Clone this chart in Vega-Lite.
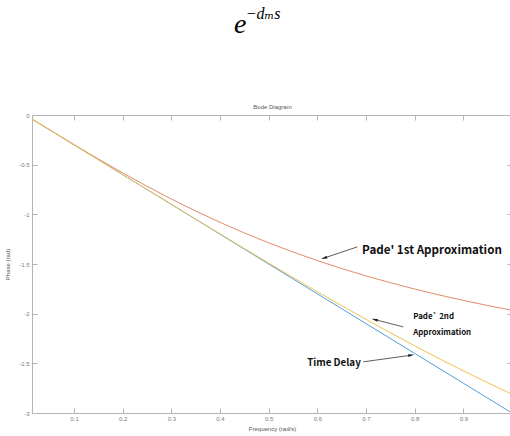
{
  "$schema": "https://vega.github.io/schema/vega-lite/v6.json",
  "width": 480,
  "height": 298,
  "autosize": {"type": "none"},
  "padding": {"left": 32, "top": 115, "right": 0, "bottom": 23},
  "background": "white",
  "title": {
    "text": "\u2800−dₘs",
    "subtitle": "e",
    "anchor": "start",
    "frame": "group",
    "align": "left",
    "dx": 202,
    "offset": 65,
    "font": "Liberation Serif, DejaVu Serif",
    "fontStyle": "italic",
    "fontWeight": "normal",
    "fontSize": 16,
    "color": "black",
    "subtitleFont": "Liberation Serif, DejaVu Serif",
    "subtitleFontStyle": "italic",
    "subtitleFontSize": 28,
    "subtitleColor": "black",
    "subtitlePadding": -11
  },
  "config": {
    "view": {"stroke": null},
    "axis": {
      "labelFont": "Liberation Sans",
      "titleFont": "Liberation Sans",
      "labelFontSize": 6,
      "titleFontSize": 6,
      "labelColor": "#7a7a7a",
      "titleColor": "#555555",
      "titleFontWeight": "normal",
      "domainColor": "#b5b5b5",
      "tickColor": "#b5b5b5",
      "grid": false,
      "tickSize": -5
    }
  },
  "datasets": {
    "phase": [
      {"freq": 0.0136, "phase": -0.041, "series": "Time Delay"},
      {"freq": 0.05, "phase": -0.15, "series": "Time Delay"},
      {"freq": 0.1, "phase": -0.3, "series": "Time Delay"},
      {"freq": 0.15, "phase": -0.45, "series": "Time Delay"},
      {"freq": 0.2, "phase": -0.6, "series": "Time Delay"},
      {"freq": 0.25, "phase": -0.75, "series": "Time Delay"},
      {"freq": 0.3, "phase": -0.9, "series": "Time Delay"},
      {"freq": 0.35, "phase": -1.05, "series": "Time Delay"},
      {"freq": 0.4, "phase": -1.2, "series": "Time Delay"},
      {"freq": 0.45, "phase": -1.35, "series": "Time Delay"},
      {"freq": 0.5, "phase": -1.5, "series": "Time Delay"},
      {"freq": 0.55, "phase": -1.65, "series": "Time Delay"},
      {"freq": 0.6, "phase": -1.8, "series": "Time Delay"},
      {"freq": 0.65, "phase": -1.95, "series": "Time Delay"},
      {"freq": 0.7, "phase": -2.1, "series": "Time Delay"},
      {"freq": 0.75, "phase": -2.25, "series": "Time Delay"},
      {"freq": 0.8, "phase": -2.4, "series": "Time Delay"},
      {"freq": 0.85, "phase": -2.55, "series": "Time Delay"},
      {"freq": 0.9, "phase": -2.7, "series": "Time Delay"},
      {"freq": 0.95, "phase": -2.85, "series": "Time Delay"},
      {"freq": 1.0, "phase": -3.0, "series": "Time Delay"},
      {"freq": 0.0136, "phase": -0.041, "series": "Pade 1st"},
      {"freq": 0.05, "phase": -0.1497, "series": "Pade 1st"},
      {"freq": 0.1, "phase": -0.2978, "series": "Pade 1st"},
      {"freq": 0.15, "phase": -0.4426, "series": "Pade 1st"},
      {"freq": 0.2, "phase": -0.5829, "series": "Pade 1st"},
      {"freq": 0.25, "phase": -0.7175, "series": "Pade 1st"},
      {"freq": 0.3, "phase": -0.8457, "series": "Pade 1st"},
      {"freq": 0.35, "phase": -0.9669, "series": "Pade 1st"},
      {"freq": 0.4, "phase": -1.0808, "series": "Pade 1st"},
      {"freq": 0.45, "phase": -1.1875, "series": "Pade 1st"},
      {"freq": 0.5, "phase": -1.287, "series": "Pade 1st"},
      {"freq": 0.55, "phase": -1.3796, "series": "Pade 1st"},
      {"freq": 0.6, "phase": -1.4656, "series": "Pade 1st"},
      {"freq": 0.65, "phase": -1.5455, "series": "Pade 1st"},
      {"freq": 0.7, "phase": -1.6196, "series": "Pade 1st"},
      {"freq": 0.75, "phase": -1.6883, "series": "Pade 1st"},
      {"freq": 0.8, "phase": -1.7521, "series": "Pade 1st"},
      {"freq": 0.85, "phase": -1.8114, "series": "Pade 1st"},
      {"freq": 0.9, "phase": -1.8665, "series": "Pade 1st"},
      {"freq": 0.95, "phase": -1.9178, "series": "Pade 1st"},
      {"freq": 1.0, "phase": -1.9656, "series": "Pade 1st"},
      {"freq": 0.0136, "phase": -0.041, "series": "Pade 2nd"},
      {"freq": 0.05, "phase": -0.15, "series": "Pade 2nd"},
      {"freq": 0.1, "phase": -0.3, "series": "Pade 2nd"},
      {"freq": 0.15, "phase": -0.45, "series": "Pade 2nd"},
      {"freq": 0.2, "phase": -0.5999, "series": "Pade 2nd"},
      {"freq": 0.25, "phase": -0.7497, "series": "Pade 2nd"},
      {"freq": 0.3, "phase": -0.8992, "series": "Pade 2nd"},
      {"freq": 0.35, "phase": -1.0483, "series": "Pade 2nd"},
      {"freq": 0.4, "phase": -1.1969, "series": "Pade 2nd"},
      {"freq": 0.45, "phase": -1.3444, "series": "Pade 2nd"},
      {"freq": 0.5, "phase": -1.4908, "series": "Pade 2nd"},
      {"freq": 0.55, "phase": -1.6357, "series": "Pade 2nd"},
      {"freq": 0.6, "phase": -1.7786, "series": "Pade 2nd"},
      {"freq": 0.65, "phase": -1.9193, "series": "Pade 2nd"},
      {"freq": 0.7, "phase": -2.0573, "series": "Pade 2nd"},
      {"freq": 0.75, "phase": -2.1922, "series": "Pade 2nd"},
      {"freq": 0.8, "phase": -2.3238, "series": "Pade 2nd"},
      {"freq": 0.85, "phase": -2.4517, "series": "Pade 2nd"},
      {"freq": 0.9, "phase": -2.5757, "series": "Pade 2nd"},
      {"freq": 0.95, "phase": -2.6956, "series": "Pade 2nd"},
      {"freq": 1.0, "phase": -2.811, "series": "Pade 2nd"}
    ],
    "arrows": [
      {"x": 0.682, "y": -1.328, "x2": 0.6137, "y2": -1.44},
      {"x": 0.7766, "y": -2.133, "x2": 0.7175, "y2": -2.059},
      {"x": 0.6943, "y": -2.485, "x2": 0.7931, "y2": -2.418}
    ]
  },
  "layer": [
    {
      "data": {"name": "phase"},
      "mark": {"type": "line", "strokeWidth": 1, "interpolate": "monotone"},
      "encoding": {
        "x": {
          "field": "freq", "type": "quantitative",
          "scale": {"domain": [0.0136, 1], "nice": false, "zero": false},
          "axis": {
            "orient": "bottom",
            "values": [0.1, 0.2, 0.3, 0.4, 0.5, 0.6, 0.7, 0.8, 0.9],
            "format": ".1f",
            "labelPadding": 7.5,
            "title": "Frequency  (rad/s)",
            "titlePadding": 4
          }
        },
        "y": {
          "field": "phase", "type": "quantitative",
          "scale": {"domain": [-3, 0], "nice": false, "zero": false},
          "axis": {
            "orient": "left",
            "values": [0, -0.5, -1, -1.5, -2, -2.5, -3],
            "labelExpr": "replace(format(datum.value, '.1~f'), '−', '-')",
            "labelPadding": 8,
            "title": "Phase (rad)",
            "titlePadding": 8
          }
        },
        "color": {
          "field": "series", "type": "nominal",
          "scale": {"domain": ["Time Delay", "Pade 1st", "Pade 2nd"], "range": ["#4f9fd8", "#e38a6a", "#eec255"]},
          "legend": null
        },
        "order": {"field": "freq", "type": "quantitative"}
      }
    },
    {
      "data": {"name": "phase"},
      "mark": {"type": "point", "opacity": 0},
      "encoding": {
        "x": {
          "field": "freq", "type": "quantitative",
          "scale": {"domain": [0.0136, 1], "nice": false, "zero": false},
          "axis": {
            "orient": "top",
            "values": [0.1, 0.2, 0.3, 0.4, 0.5, 0.6, 0.7, 0.8, 0.9],
            "labels": false,
            "title": "Bode Diagram",
            "titlePadding": 5
          }
        },
        "y": {
          "field": "phase", "type": "quantitative",
          "scale": {"domain": [-3, 0], "nice": false, "zero": false},
          "axis": {
            "orient": "right",
            "values": [0, -0.5, -1, -1.5, -2, -2.5, -3],
            "labels": false,
            "title": null
          }
        }
      }
    },
    {
      "data": {"name": "arrows"},
      "mark": {"type": "rule", "color": "#333333", "strokeWidth": 0.8},
      "encoding": {
        "x": {"field": "x", "type": "quantitative", "scale": {"domain": [0.0136, 1], "nice": false, "zero": false}, "axis": null},
        "y": {"field": "y", "type": "quantitative", "scale": {"domain": [-3, 0], "nice": false, "zero": false}, "axis": null},
        "x2": {"field": "x2"},
        "y2": {"field": "y2"}
      }
    },
    {
      "data": {"values": [{"x": 0.6137, "y": -1.44}]},
      "mark": {"type": "point", "shape": "M0,-1L0.45,1L-0.45,1Z", "size": 40, "filled": true, "color": "#222222", "opacity": 1, "angle": 251.6},
      "encoding": {
        "x": {"field": "x", "type": "quantitative", "scale": {"domain": [0.0136, 1], "nice": false, "zero": false}, "axis": null},
        "y": {"field": "y", "type": "quantitative", "scale": {"domain": [-3, 0], "nice": false, "zero": false}, "axis": null}
      }
    },
    {
      "data": {"values": [{"x": 0.7175, "y": -2.059}]},
      "mark": {"type": "point", "shape": "M0,-1L0.45,1L-0.45,1Z", "size": 40, "filled": true, "color": "#222222", "opacity": 1, "angle": 284},
      "encoding": {
        "x": {"field": "x", "type": "quantitative", "scale": {"domain": [0.0136, 1], "nice": false, "zero": false}, "axis": null},
        "y": {"field": "y", "type": "quantitative", "scale": {"domain": [-3, 0], "nice": false, "zero": false}, "axis": null}
      }
    },
    {
      "data": {"values": [{"x": 0.7931, "y": -2.418}]},
      "mark": {"type": "point", "shape": "M0,-1L0.45,1L-0.45,1Z", "size": 40, "filled": true, "color": "#222222", "opacity": 1, "angle": 82.2},
      "encoding": {
        "x": {"field": "x", "type": "quantitative", "scale": {"domain": [0.0136, 1], "nice": false, "zero": false}, "axis": null},
        "y": {"field": "y", "type": "quantitative", "scale": {"domain": [-3, 0], "nice": false, "zero": false}, "axis": null}
      }
    },
    {
      "data": {"values": [{"label": "Pade' 1st Approximation", "x": 0.692, "y": -1.368}]},
      "mark": {"type": "text", "align": "left", "baseline": "middle", "font": "Noto Sans CJK KR", "fontWeight": "bold", "fontSize": 11.6, "color": "#111111"},
      "encoding": {
        "x": {"field": "x", "type": "quantitative", "scale": {"domain": [0.0136, 1], "nice": false, "zero": false}, "axis": null},
        "y": {"field": "y", "type": "quantitative", "scale": {"domain": [-3, 0], "nice": false, "zero": false}, "axis": null},
        "text": {"field": "label"}
      }
    },
    {
      "data": {"values": [
        {"label": "Pade` 2nd", "x": 0.797, "y": -2.032},
        {"label": "Approximation", "x": 0.797, "y": -2.198}
      ]},
      "mark": {"type": "text", "align": "left", "baseline": "middle", "font": "Noto Sans CJK KR", "fontWeight": "bold", "fontSize": 7.9, "color": "#111111"},
      "encoding": {
        "x": {"field": "x", "type": "quantitative", "scale": {"domain": [0.0136, 1], "nice": false, "zero": false}, "axis": null},
        "y": {"field": "y", "type": "quantitative", "scale": {"domain": [-3, 0], "nice": false, "zero": false}, "axis": null},
        "text": {"field": "label"}
      }
    },
    {
      "data": {"values": [{"label": "Time Delay", "x": 0.579, "y": -2.495}]},
      "mark": {"type": "text", "align": "left", "baseline": "middle", "font": "Noto Sans CJK KR", "fontWeight": "bold", "fontSize": 9.8, "color": "#111111"},
      "encoding": {
        "x": {"field": "x", "type": "quantitative", "scale": {"domain": [0.0136, 1], "nice": false, "zero": false}, "axis": null},
        "y": {"field": "y", "type": "quantitative", "scale": {"domain": [-3, 0], "nice": false, "zero": false}, "axis": null},
        "text": {"field": "label"}
      }
    }
  ],
  "resolve": {"axis": {"x": "independent", "y": "independent"}}
}
